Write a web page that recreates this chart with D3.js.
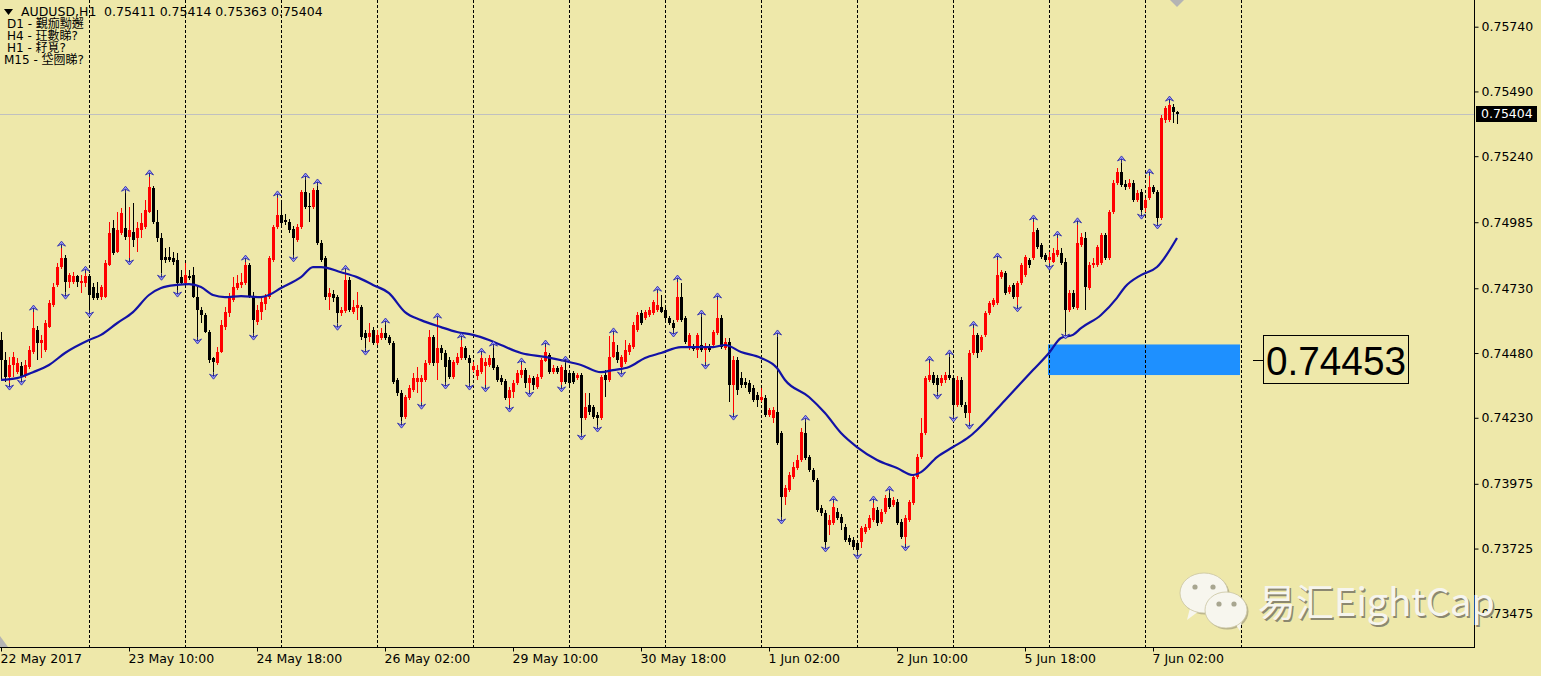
<!DOCTYPE html>
<html>
<head>
<meta charset="utf-8">
<title>AUDUSD,H1</title>
<script src="https://d3js.org/d3.v7.min.js"></script>
<style>
  body { margin: 0; background: #EEE8AA; overflow: hidden; }
  svg { display: block; }
  text { font-family: "DejaVu Sans", Tahoma, sans-serif; font-size: 12.5px; fill: #000; }
  .axis .domain { display: none; }
  .axis line { stroke: #000; }
</style>
</head>
<body>
<script>
// AUDUSD H1 bars, prices in points (1e-5). bar 0 = 22 May 02:00
var opens = [
74530,74453,74387,74434,74406,74430,74391,74426,74484,74569,74518,74492,74580,74666,74743,74812,74847,74754,74754,74777,
74750,74750,74777,74735,74711,74696,74696,74820,74963,74870,74943,74963,74928,74947,74924,74955,74967,75024,75117,74986,
74924,74851,74851,74847,74839,74773,74750,74777,74781,74696,74646,74627,74561,74461,74441,74484,74580,74634,74685,74731,
74743,74750,74820,74696,74599,74638,74669,74696,74839,74967,75013,74994,74986,74959,74916,74967,75101,75048,75044,75109,
74904,74847,74696,74707,74696,74634,74642,74762,74638,74654,74658,74557,74542,74569,74518,74538,74557,74542,74518,74376,
74325,74233,74306,74337,74368,74368,74376,74441,74542,74441,74499,74480,74453,74387,74441,74461,74499,74461,74414,74391,
74406,74430,74434,74461,74426,74383,74372,74306,74329,74364,74395,74414,74364,74383,74349,74387,74449,74472,74406,74422,
74368,74414,74402,74402,74383,74395,74229,74279,74271,74241,74229,74395,74376,74465,74484,74426,74445,74484,74503,74569,
74634,74615,74627,74634,74646,74658,74646,74615,74595,74607,74696,74615,74499,74503,74492,74511,74492,74503,74511,74557,
74615,74499,74522,74357,74453,74383,74368,74364,74345,74318,74298,74306,74241,74229,74252,74171,73924,73951,74001,74036,
74067,74171,74079,74028,73990,73881,73862,73816,73824,73866,73847,73808,73766,73758,73746,73750,73789,73804,73835,73874,
73827,73866,73920,73893,73904,73827,73770,73835,73901,74001,74078,74171,74376,74395,74383,74364,74376,74395,74383,74279,
74376,74279,74248,74480,74550,74492,74550,74634,74666,74673,74773,74788,74715,74743,74696,74750,74781,74839,74847,74955,
74897,74859,74839,74831,74859,74866,74831,74646,74711,74654,74897,74924,74731,74820,74820,74827,74936,74847,75024,75136,
75179,75132,75121,75136,75071,75101,75040,75079,75121,75101,75001,75380,75380,75430,75411
];
var highs = [
74561,74484,74465,74484,74461,74445,74453,74507,74638,74584,74550,74607,74685,74750,74827,74885,74859,74788,74792,74781,
74781,74788,74785,74750,74754,74743,74839,74986,74994,75024,75040,75097,75044,75059,74986,75020,75071,75160,75125,75032,
74943,74885,74889,74870,74866,74800,74827,74800,74812,74735,74658,74634,74569,74465,74503,74607,74658,74711,74773,74781,
74788,74831,74827,74715,74666,74693,74707,74855,74975,75079,75063,75017,74998,74971,74979,75109,75148,75097,75117,75125,
74916,74855,74731,74723,74704,74658,74792,74773,74685,74715,74666,74569,74595,74580,74569,74576,74588,74550,74526,74383,
74337,74318,74357,74402,74426,74395,74453,74569,74550,74607,74511,74492,74465,74453,74480,74530,74507,74472,74445,74434,
74472,74461,74472,74499,74434,74395,74379,74349,74376,74414,74434,74422,74395,74391,74399,74461,74503,74480,74434,74430,
74434,74441,74414,74410,74402,74402,74325,74325,74279,74252,74395,74414,74546,74550,74511,74472,74530,74518,74599,74638,
74646,74646,74658,74685,74711,74704,74654,74623,74607,74754,74750,74623,74557,74515,74557,74619,74518,74515,74569,74685,
74627,74538,74538,74469,74465,74406,74383,74376,74357,74329,74345,74318,74267,74271,74542,74179,73970,74020,74059,74086,
74190,74213,74086,74036,73998,73893,73874,73854,73901,73881,73858,73820,73778,73770,73758,73812,73820,73854,73901,73885,
73878,73932,73939,73924,73916,73839,73854,73912,74009,74090,74229,74391,74441,74406,74395,74395,74406,74465,74391,74391,
74387,74290,74492,74576,74557,74550,74642,74681,74693,74839,74800,74796,74743,74750,74758,74827,74859,74847,74986,74963,
74904,74866,74870,74885,74924,74885,74847,74723,74723,74975,74943,74947,74831,74847,74897,74943,74943,75032,75148,75194,
75214,75148,75152,75148,75109,75113,75079,75164,75129,75109,75399,75434,75445,75442,75414
];
var lows = [
74376,74368,74364,74387,74399,74383,74383,74418,74477,74453,74461,74484,74576,74658,74735,74804,74715,74731,74747,74735,
74711,74735,74646,74685,74685,74685,74693,74816,74859,74866,74936,74916,74847,74889,74870,74924,74959,75020,74979,74908,
74788,74827,74831,74820,74723,74743,74743,74762,74693,74542,74595,74557,74441,74406,74434,74480,74569,74619,74677,74723,
74731,74743,74693,74557,74588,74607,74646,74689,74831,74959,74971,74975,74943,74859,74908,74959,75036,74986,75036,74897,
74831,74685,74646,74677,74595,74623,74634,74638,74630,74607,74530,74499,74522,74511,74511,74530,74530,74511,74360,74314,
74217,74225,74298,74329,74325,74290,74368,74434,74430,74376,74453,74368,74379,74379,74434,74453,74453,74364,74406,74376,
74399,74357,74426,74414,74368,74357,74298,74279,74306,74357,74383,74345,74337,74337,74341,74379,74445,74399,74399,74399,
74357,74360,74357,74360,74376,74171,74221,74241,74225,74202,74221,74310,74368,74461,74441,74414,74438,74472,74495,74561,
74588,74607,74619,74627,74638,74634,74607,74588,74569,74599,74599,74515,74492,74488,74461,74484,74445,74484,74503,74550,
74495,74492,74290,74248,74318,74345,74345,74322,74290,74271,74290,74233,74233,74210,74125,73847,73893,73943,73994,74028,
74059,74067,74020,73982,73866,73851,73739,73778,73816,73835,73797,73750,73739,73719,73711,73727,73781,73797,73827,73812,
73820,73859,73878,73885,73816,73762,73743,73827,73893,73994,74071,74163,74368,74357,74329,74353,74364,74376,74241,74271,
74271,74229,74213,74472,74461,74484,74542,74627,74658,74666,74765,74704,74707,74689,74666,74743,74773,74808,74839,74882,
74843,74831,74827,74827,74851,74820,74561,74638,74650,74646,74889,74646,74723,74808,74812,74820,74839,74839,75017,75129,
75121,75109,75113,75063,75063,75024,75024,75071,75094,74986,74994,75368,75372,75368,75363
];
var closes = [
74453,74387,74434,74465,74441,74391,74434,74492,74576,74518,74530,74595,74673,74735,74812,74847,74754,74781,74777,74754,
74758,74777,74704,74693,74693,74735,74827,74943,74866,74955,75020,74928,74955,74916,74963,74982,75032,75121,74986,74924,
74839,74839,74839,74831,74750,74750,74781,74769,74696,74646,74627,74561,74453,74445,74484,74588,74638,74693,74735,74750,
74754,74820,74696,74607,74646,74677,74696,74847,74967,75013,74982,74986,74955,74924,74967,75101,75044,75044,75109,74904,
74839,74696,74711,74693,74634,74646,74762,74646,74658,74666,74542,74538,74557,74518,74550,74557,74538,74518,74368,74325,
74233,74310,74345,74383,74383,74383,74441,74542,74441,74499,74480,74426,74387,74445,74465,74503,74461,74441,74430,74414,
74461,74445,74461,74422,74376,74368,74306,74337,74364,74402,74414,74364,74383,74357,74387,74453,74484,74406,74422,74406,
74426,74368,74364,74368,74395,74229,74271,74252,74233,74229,74387,74376,74465,74522,74453,74465,74492,74511,74588,74627,
74595,74638,74646,74677,74666,74638,74615,74595,74576,74696,74607,74522,74550,74495,74550,74492,74507,74492,74561,74615,
74503,74522,74357,74453,74337,74357,74357,74329,74298,74298,74310,74241,74260,74260,74132,73924,73959,74009,74040,74067,
74175,74075,74028,73990,73874,73862,73750,73835,73885,73843,73824,73758,73750,73731,73719,73804,73808,73843,73881,73824,
73866,73920,73885,73912,73824,73770,73843,73904,74001,74078,74171,74383,74395,74364,74357,74383,74395,74383,74279,74376,
74279,74248,74480,74550,74480,74542,74634,74673,74685,74781,74792,74711,74735,74696,74750,74820,74851,74820,74947,74889,
74851,74839,74851,74866,74878,74827,74646,74711,74658,74904,74928,74735,74820,74827,74889,74936,74847,75024,75136,75179,
75129,75121,75136,75071,75097,75032,75071,75121,75101,75001,75387,75426,75438,75411,75404
];

// moving average, read at sampled bars: [bar, points]
var maPoints = [
[0,74376],[4,74383],[8,74406],[12,74434],[16,74480],[22,74530],[25,74550],[29,74595],[33,74638],[37,74704],
[40,74731],[44,74743],[47,74746],[50,74735],[53,74704],[56,74696],[60,74700],[65,74696],[67,74704],[70,74731],
[75,74773],[78,74812],[80,74812],[85,74792],[89,74773],[93,74743],[97,74711],[101,74638],[105,74607],[110,74580],
[114,74561],[118,74550],[122,74530],[125,74511],[130,74480],[136,74465],[141,74449],[145,74434],[150,74406],[153,74414],
[157,74426],[161,74461],[165,74480],[170,74503],[174,74503],[178,74503],[181,74511],[185,74484],[190,74461],[194,74422],
[196,74376],[202,74310],[206,74248],[210,74171],[214,74117],[219,74067],[224,74036],[228,74009],[230,74020],[234,74078],
[238,74117],[242,74156],[244,74183],[251,74298],[258,74414],[262,74480],[265,74538],[268,74550],[270,74576],[275,74627],
[279,74693],[281,74735],[285,74781],[289,74812],[294,74924]
];

var priceTicks = [0.75740, 0.75490, 0.75240, 0.74985, 0.74730, 0.74480, 0.74230, 0.73975, 0.73725, 0.73475];
var timeTickBars = [0, 32, 64, 96, 128, 160, 192, 224, 256, 288];
var timeTickLabels = ["22 May 2017", "23 May 10:00", "24 May 18:00", "26 May 02:00", "29 May 10:00",
                      "30 May 18:00", "1 Jun 02:00", "2 Jun 10:00", "5 Jun 18:00", "7 Jun 02:00"];
var dayStartBars = [22, 46, 70, 94, 118, 142, 166, 190, 214, 238, 262, 286, 310];

// rectangle object and its price label
var zoneBars = [262, 310];
var zonePrices = [0.74513, 0.74395];
var zoneLabel = 0.74453;

var headerLines = ["D1 - 覲痂黝邂", "H4 - 玨數睇?", "H1 - 耔覓?", "M15 - 垈囫睇?"];

var W = 1541, H = 676, plotRight = 1474, plotBottom = 647;

var bars = opens.map(function(o, i) {
    return {i: i, o: o / 1e5, h: highs[i] / 1e5, l: lows[i] / 1e5, c: closes[i] / 1e5};
});
var last = bars[bars.length - 1];

var x = d3.scaleLinear().domain([0, 368.25]).range([1, 1474]);
var y = d3.scaleLinear().domain([0.75740, 0.73475]).range([26.7, 613.3]);

var svg = d3.select("body").append("svg").attr("width", W).attr("height", H);
svg.append("rect").attr("width", W).attr("height", H).attr("fill", "#EEE8AA");

svg.append("defs").append("clipPath").attr("id", "plotclip")
    .append("rect").attr("width", plotRight).attr("height", plotBottom);

var plot = svg.append("g").attr("clip-path", "url(#plotclip)");

// blue zone (background object)
plot.append("rect")
    .attr("x", x(zoneBars[0]) - 1)
    .attr("width", x(zoneBars[1]) - x(zoneBars[0]))
    .attr("y", y(zonePrices[0]))
    .attr("height", y(zonePrices[1]) - y(zonePrices[0]))
    .attr("fill", "#1E90FF");

// day separators
plot.append("g").selectAll("line").data(dayStartBars).join("line")
    .attr("x1", d => Math.round(x(d)) + 0.5).attr("x2", d => Math.round(x(d)) + 0.5)
    .attr("y1", 0).attr("y2", plotBottom)
    .attr("stroke", "#000").attr("stroke-dasharray", "3,2").attr("shape-rendering", "crispEdges");

// bid line
plot.append("line")
    .attr("x1", 0).attr("x2", plotRight)
    .attr("y1", Math.round(y(last.c)) + 0.5).attr("y2", Math.round(y(last.c)) + 0.5)
    .attr("stroke", "#C0C0C0").attr("shape-rendering", "crispEdges");

// candles
function candleColor(d) { return d.c >= d.o ? "#FF0000" : "#000000"; }
var cg = plot.append("g").attr("shape-rendering", "crispEdges");
cg.selectAll("line").data(bars).join("line")
    .attr("x1", d => x(d.i) + 0.5).attr("x2", d => x(d.i) + 0.5)
    .attr("y1", d => y(Math.max(d.h, d.o, d.c)))
    .attr("y2", d => y(Math.min(d.l, d.o, d.c)))
    .attr("stroke", candleColor);
cg.selectAll("rect").data(bars).join("rect")
    .attr("x", d => x(d.i) - 1).attr("width", 3)
    .attr("y", d => y(Math.max(d.o, d.c)))
    .attr("height", d => Math.max(1, Math.abs(y(d.o) - y(d.c))))
    .attr("fill", candleColor);

// moving average
plot.append("path")
    .datum(maPoints)
    .attr("d", d3.line().x(d => x(d[0])).y(d => y(d[1] / 1e5)).curve(d3.curveMonotoneX))
    .attr("fill", "none").attr("stroke", "#1212A6").attr("stroke-width", 2.2);

// fractals
function upFractal(i) {
    if (i < 2 || i > bars.length - 3) return false;
    var h = bars[i].h;
    return h > bars[i - 1].h && h > bars[i - 2].h && h >= bars[i + 1].h && h >= bars[i + 2].h;
}
function downFractal(i) {
    if (i < 2 || i > bars.length - 3) return false;
    var l = bars[i].l;
    return l < bars[i - 1].l && l < bars[i - 2].l && l <= bars[i + 1].l && l <= bars[i + 2].l;
}
var ups = bars.filter(d => upFractal(d.i));
var downs = bars.filter(d => downFractal(d.i));
var fg = plot.append("g");
fg.selectAll("g.up").data(ups).join("g").attr("class", "up").each(function(d) {
    var g = d3.select(this), cx = x(d.i) + 0.5, t = y(d.h) - 7;
    g.append("line").attr("x1", cx).attr("x2", cx).attr("y1", t + 2).attr("y2", y(d.h))
        .attr("stroke", "#202070");
    g.append("path")
        .attr("d", "M" + (cx - 4) + "," + (t + 5) + "L" + cx + "," + t + "L" + (cx + 4) + "," + (t + 5) + "L" + cx + "," + (t + 3) + "Z")
        .attr("fill", "#9A9AFF").attr("stroke", "#3030A8").attr("stroke-width", 0.9);
});
fg.selectAll("g.down").data(downs).join("g").attr("class", "down").each(function(d) {
    var g = d3.select(this), cx = x(d.i) + 0.5, t = y(d.l) + 7;
    g.append("line").attr("x1", cx).attr("x2", cx).attr("y1", y(d.l)).attr("y2", t - 2)
        .attr("stroke", "#202070");
    g.append("path")
        .attr("d", "M" + (cx - 4) + "," + (t - 5) + "L" + cx + "," + t + "L" + (cx + 4) + "," + (t - 5) + "L" + cx + "," + (t - 3) + "Z")
        .attr("fill", "#9A9AFF").attr("stroke", "#3030A8").attr("stroke-width", 0.9);
});

// chart shift markers
svg.append("path").attr("d", "M1170,0L1184,0L1177,7Z").attr("fill", "#B4B4B4");
svg.append("path").attr("d", "M0,636L8,647L0,647Z").attr("fill", "#B4B4B4");

// zone label
var ly = y(zoneLabel);
svg.append("line").attr("x1", x(zoneBars[1]) + 12).attr("x2", x(zoneBars[1]) + 22)
    .attr("y1", Math.round(ly) + 0.5).attr("y2", Math.round(ly) + 0.5).attr("stroke", "#000");
svg.append("rect").attr("x", x(zoneBars[1]) + 22.5).attr("y", Math.round(ly) - 24.5)
    .attr("width", 145).attr("height", 48).attr("fill", "none").attr("stroke", "#000");
svg.append("text").attr("x", x(zoneBars[1]) + 25).attr("y", ly + 15)
    .attr("textLength", 140).attr("lengthAdjust", "spacingAndGlyphs")
    .style("font-family", "'Liberation Sans', Arial, sans-serif").style("font-size", "41px")
    .text(d3.format(".5f")(zoneLabel));

// price axis
svg.append("line").attr("x1", plotRight + 0.5).attr("x2", plotRight + 0.5)
    .attr("y1", 0).attr("y2", plotBottom + 0.5).attr("stroke", "#000");
svg.append("g").attr("class", "axis").attr("transform", "translate(" + (plotRight + 0.5) + ",0)")
    .call(d3.axisRight(y).tickValues(priceTicks).tickFormat(d3.format(".5f")).tickSize(4).tickPadding(3))
    .call(g => g.selectAll("text").attr("font-family", null).attr("font-size", null));

// bid price box
svg.append("rect").attr("x", 1476).attr("y", Math.round(y(last.c)) - 8).attr("width", 61).attr("height", 16).attr("fill", "#000");
svg.append("text").attr("x", 1481).attr("y", y(last.c) + 4.5).style("fill", "#fff").text(d3.format(".5f")(last.c));

// time axis
svg.append("line").attr("x1", 0).attr("x2", plotRight + 1)
    .attr("y1", plotBottom + 0.5).attr("y2", plotBottom + 0.5).attr("stroke", "#000");
svg.append("g").attr("class", "axis").attr("transform", "translate(0," + (plotBottom + 0.5) + ")")
    .call(d3.axisBottom(x).tickValues(timeTickBars).tickFormat((d, i) => timeTickLabels[i]).tickSize(4).tickSizeOuter(0).tickPadding(3))
    .call(g => g.selectAll("text").attr("font-family", null).attr("font-size", null)
        .attr("text-anchor", "start").attr("x", -1));

// header
svg.append("path").attr("d", "M4,9L13,9L8.5,15Z").attr("fill", "#000");
svg.append("text").attr("x", 21).attr("y", 16).text("AUDUSD,H1");
svg.append("text").attr("x", 104).attr("y", 16)
    .text([last.o, last.h, last.l, last.c].map(d3.format(".5f")).join(" "));
var headerY = [28, 40, 51.5, 63.5];
svg.append("g").selectAll("text").data(headerLines).join("text")
    .attr("x", (d, i) => i === 3 ? 4 : 7).attr("y", (d, i) => headerY[i])
    .style("font-family", "'DejaVu Sans', 'Noto Sans CJK TC', sans-serif")
    .style("font-size", "12px")
    .text(d => d);

// watermark
var wm = svg.append("g");
function bubble(cx, cy, rx, ry, tail, eyes) {
    var g = wm.append("g");
    g.append("ellipse").attr("cx", cx + 1.5).attr("cy", cy + 1.5).attr("rx", rx).attr("ry", ry).attr("fill", "#B8B28A");
    g.append("path").attr("d", tail).attr("fill", "#F7F6EE");
    g.append("ellipse").attr("cx", cx).attr("cy", cy).attr("rx", rx).attr("ry", ry)
        .attr("fill", "#F7F6EE").attr("stroke", "#C9C4A0").attr("stroke-width", 0.8);
    eyes.forEach(function(e) {
        g.append("circle").attr("cx", e[0]).attr("cy", e[1]).attr("r", 2.6).attr("fill", "#A8A690");
    });
}
bubble(1204, 593, 24, 20, "M1190,608L1187,620L1199,611Z", [[1195, 587], [1213, 587]]);
bubble(1226, 610, 21, 18, "M1234,622L1240,631L1242,619Z", [[1219, 604], [1234, 604]]);
wm.append("text").attr("x", 1259.5).attr("y", 617.5)
    .style("font-family", "'Noto Sans CJK SC', 'Noto Sans', sans-serif").style("font-size", "38px")
    .style("fill", "#8C8870").text("易汇EightCap");
wm.append("text").attr("x", 1258).attr("y", 616)
    .style("font-family", "'Noto Sans CJK SC', 'Noto Sans', sans-serif").style("font-size", "38px")
    .style("fill", "#F6F5EE").text("易汇EightCap");
</script>
</body>
</html>
